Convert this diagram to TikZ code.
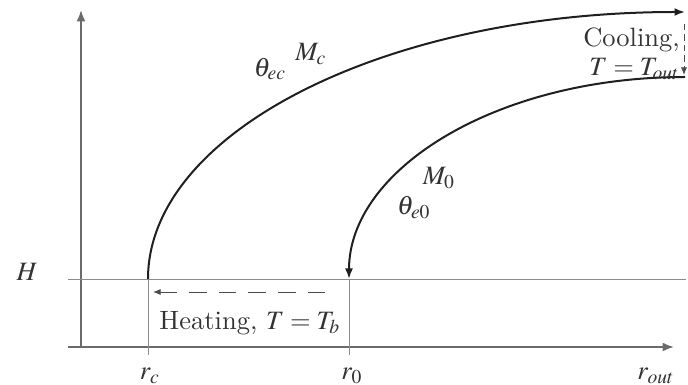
\documentclass[tikz,border=0pt]{standalone}
\usepackage{mathptmx}
\usetikzlibrary{arrows.meta}
\definecolor{axisgray}{gray}{0.42}
\definecolor{thingray}{gray}{0.55}
\definecolor{curvedark}{gray}{0.12}

\begin{document}
\begin{tikzpicture}[x=0.4pt,y=-0.4pt,
  lbl/.style={font=\fontsize{10.6}{11.4}\selectfont,inner sep=0.3pt,text=black!80},
  axis/.style={axisgray,line width=0.7pt,-{Latex[length=4.6pt,width=3.6pt]}},
  guide/.style={thingray,line width=0.3pt},
  loadpath/.style={curvedark,line width=0.8pt,-{Latex[length=4.2pt,width=3.2pt]}},
  flow/.style={curvedark!80,line width=0.35pt,-{Latex[length=3pt,width=2.4pt]}}]
  \useasboundingbox (0,0) rectangle (688,385);

  % axes
  \coordinate (O) at (81,347);
  \coordinate (ytop) at (81,10);
  \coordinate (xleft) at (68,347);
  \coordinate (xend) at (674,347);
  \draw[axis] (O) -- (ytop);
  \draw[axis] (xleft) -- (xend);

  % level H and radii
  \coordinate (hleft) at (68,279);
  \coordinate (hright) at (686,279);
  \coordinate (rc) at (148,279);
  \coordinate (r0) at (349,279);
  \coordinate (rcfoot) at (148,355);
  \coordinate (r0foot) at (349,355);
  \draw[guide] (hleft) -- (hright);
  \draw[guide] (rc) -- (rcfoot);
  \draw[guide] (r0) -- (r0foot);
  \node[lbl] (hlbl) at (27,272) {$H$};
  \node[lbl] (rclbl) at (150,376) {$r_c$};
  \node[lbl] (r0lbl) at (352,376) {$r_0$};
  \node[lbl] (routlbl) at (656,376) {$r_{out}$};

  % loading paths
  \coordinate (cend) at (685,12);
  \coordinate (ostart) at (685,77);
  \draw[loadpath] (rc) .. controls (148,132) and (386,12) .. (cend);
  \draw[loadpath] (ostart) .. controls (497,77) and (349,169) .. (r0);
  \node[lbl] (thetaec) at (270,69) {$\theta_{ec}$};
  \node[lbl] (Mc) at (311,54) {$M_c$};
  \node[lbl] (M0) at (439,178) {$M_0$};
  \node[lbl] (thetae0) at (414,208) {$\theta_{e0}$};

  % cooling and heating
  \coordinate (ctop) at (684,24);
  \coordinate (cbot) at (684,75);
  \draw[flow,dash pattern=on 2.6pt off 1.6pt] (ctop) -- (cbot);
  \node[lbl,align=right,anchor=east] (cool) at (681,54) {Cooling,\\$T=T_{out}$};
  \coordinate (hstart) at (325,292);
  \coordinate (hend) at (153,292);
  \draw[flow,dash pattern=on 7pt off 4.8pt] (hstart) -- (hend);
  \node[lbl] (heat) at (250,323) {Heating, $T=T_b$};
\end{tikzpicture}
\end{document}
